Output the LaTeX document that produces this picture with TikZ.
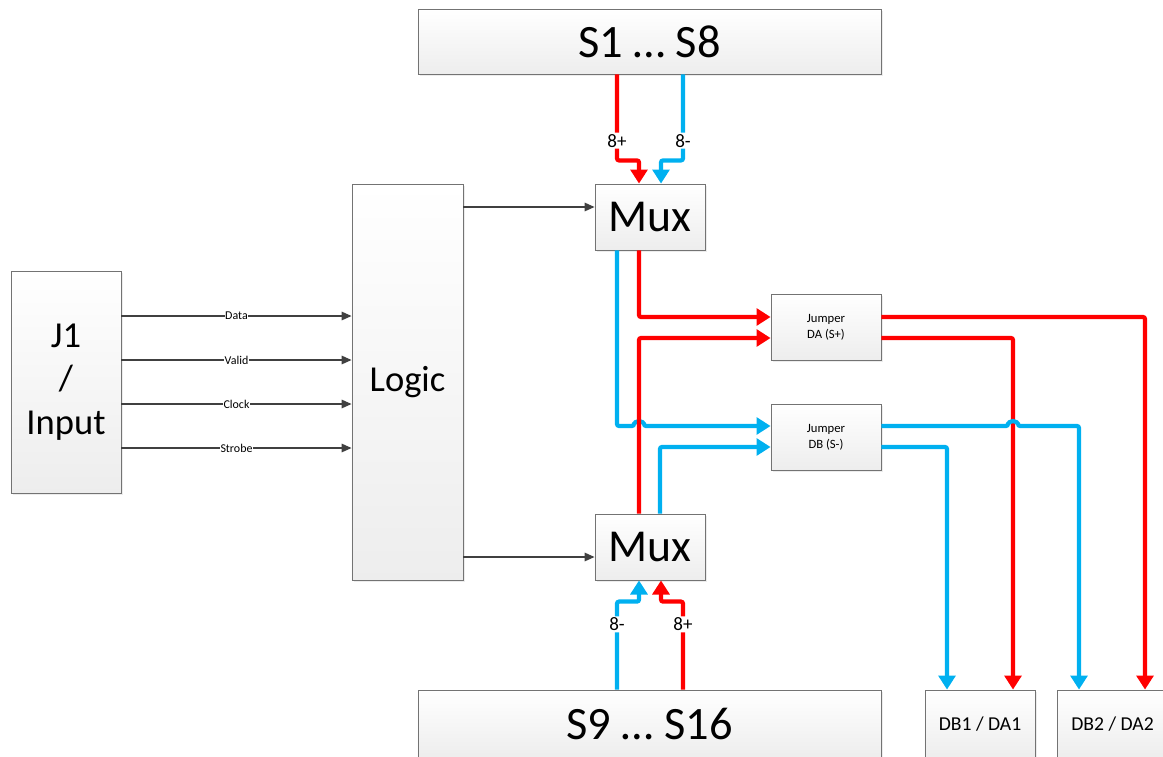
\documentclass[tikz,border=0pt]{standalone}
\usepackage{fontspec}
\setmainfont{Carlito}
\usetikzlibrary{calc,arrows.meta,shadows}
\definecolor{wirered}{HTML}{FF0000}
\definecolor{wireblue}{HTML}{00B0F0}
\definecolor{ctlgray}{HTML}{404040}

\begin{document}
\begin{tikzpicture}[x=0.025cm, y=-0.025cm,
  blk/.style={draw=gray!90!black, line width=0.6pt, top color=white, bottom color=gray!14,
    drop shadow={shadow xshift=1.2pt, shadow yshift=-1.2pt, fill=gray!30},
    inner sep=0pt, align=center},
  redwire/.style={wirered, line width=3pt, rounded corners=1.5pt,
    -{Triangle[width=12pt,length=10pt]}},
  bluewire/.style={redwire, wireblue},
  ctl/.style={ctlgray, line width=0.9pt, -{Triangle[width=6pt,length=7pt]}},
  pinlabel/.style={fill=white, text=black, inner sep=1pt, font=\fontsize{13.5}{15}\selectfont},
  siglabel/.style={fill=white, text=black, inner sep=0.5pt, font=\fontsize{8.5}{10}\selectfont}]
  \useasboundingbox (0,0) rectangle (1163,756);
  % Blocks
  \node[blk, minimum width=11.575cm, minimum height=1.625cm, font=\fontsize{33}{38}\selectfont]
    (sa) at (649.5,41.5) {S1 … S8};
  \node[blk, minimum width=2.75cm, minimum height=1.65cm, font=\fontsize{32.5}{38}\selectfont]
    (tmux) at (650,217) {Mux};
  \node[blk, minimum width=2.75cm, minimum height=1.65cm, font=\fontsize{32.5}{38}\selectfont]
    (bmux) at (650,547) {Mux};
  \node[blk, minimum width=2.775cm, minimum height=9.9cm, font=\fontsize{26}{31}\selectfont]
    (logic) at (407.5,382) {Logic};
  \node[blk, minimum width=2.75cm, minimum height=5.55cm, font=\fontsize{26}{31}\selectfont]
    (jin) at (66,382) {J1\\/\\Input};
  \node[blk, minimum width=2.75cm, minimum height=1.65cm, font=\fontsize{9}{11.5}\selectfont]
    (jda) at (826,327) {Jumper\\DA (S+)};
  \node[blk, minimum width=2.75cm, minimum height=1.65cm, font=\fontsize{9}{11.5}\selectfont]
    (jdb) at (826,437) {Jumper\\DB (S-)};
  \node[blk, minimum width=11.575cm, minimum height=1.7cm, font=\fontsize{33}{38}\selectfont]
    (sb) at (649.5,724) {S9 … S16};
  \node[blk, minimum width=2.75cm, minimum height=1.7cm, font=\fontsize{14}{17}\selectfont]
    (oa) at (980,724) {DB1 / DA1};
  \node[blk, minimum width=2.775cm, minimum height=1.7cm, font=\fontsize{14}{17}\selectfont]
    (ob) at (1112.5,724) {DB2 / DA2};

  % Input signals into the logic block
  \foreach \sig/\dy in {Data/-66, Valid/-22, Clock/22, Strobe/66} {
    \draw[ctl] ($(jin.east)+(0,\dy)$) -- node[siglabel]{\sig} ($(logic.west)+(0,\dy)$);
  }
  % Select lines to the muxes
  \coordinate (tsel) at ($(tmux.west)+(0,-10)$);
  \coordinate (bsel) at ($(bmux.west)+(0,10)$);
  \draw[ctl] (tsel -| logic.east) -- (tsel);
  \draw[ctl] (bsel -| logic.east) -- (bsel);

  % Channels S1..S8 into the upper mux
  \draw[redwire] ($(sa.south)+(-32.5,0)$) -- node[pinlabel, pos=.77]{8+} ++(0,86)
    -| ($(tmux.north)+(-11,0)$);
  \draw[bluewire] ($(sa.south)+(33.5,0)$) -- node[pinlabel, pos=.77]{8-} ++(0,86)
    -| ($(tmux.north)+(11,0)$);
  % Channels S9..S16 into the lower mux
  \draw[bluewire] ($(sb.north)+(-32.5,0)$) -- node[pinlabel, pos=.74]{8-} ++(0,-88)
    -| ($(bmux.south)+(-11,0)$);
  \draw[redwire] ($(sb.north)+(33.5,0)$) -- node[pinlabel, pos=.74]{8+} ++(0,-88)
    -| ($(bmux.south)+(11,0)$);

  % Mux outputs to the jumpers
  \draw[redwire] ($(tmux.south)+(-11,0)$) |- ($(jda.west)+(0,-10)$);
  \draw[bluewire] ($(tmux.south)+(-33,0)$) |- (634,426)
    arc[start angle=180, end angle=0, radius=0.125cm] -- ($(jdb.west)+(0,-11)$);
  \draw[redwire] ($(bmux.north)+(-11,0)$) |- ($(jda.west)+(0,11)$);
  \draw[bluewire] ($(bmux.north)+(10,0)$) |- ($(jdb.west)+(0,10)$);

  % Jumper outputs to the connectors
  \draw[redwire] ($(jda.east)+(0,-10)$) -| ($(ob.north)+(32.5,0)$);
  \draw[redwire] ($(jda.east)+(0,11)$) -| ($(oa.north)+(33,0)$);
  \draw[bluewire] ($(jdb.east)+(0,-11)$) -- (1008,426)
    arc[start angle=180, end angle=0, radius=0.125cm] -| ($(ob.north)+(-33.5,0)$);
  \draw[bluewire] ($(jdb.east)+(0,10)$) -| ($(oa.north)+(-33,0)$);
\end{tikzpicture}
\end{document}
